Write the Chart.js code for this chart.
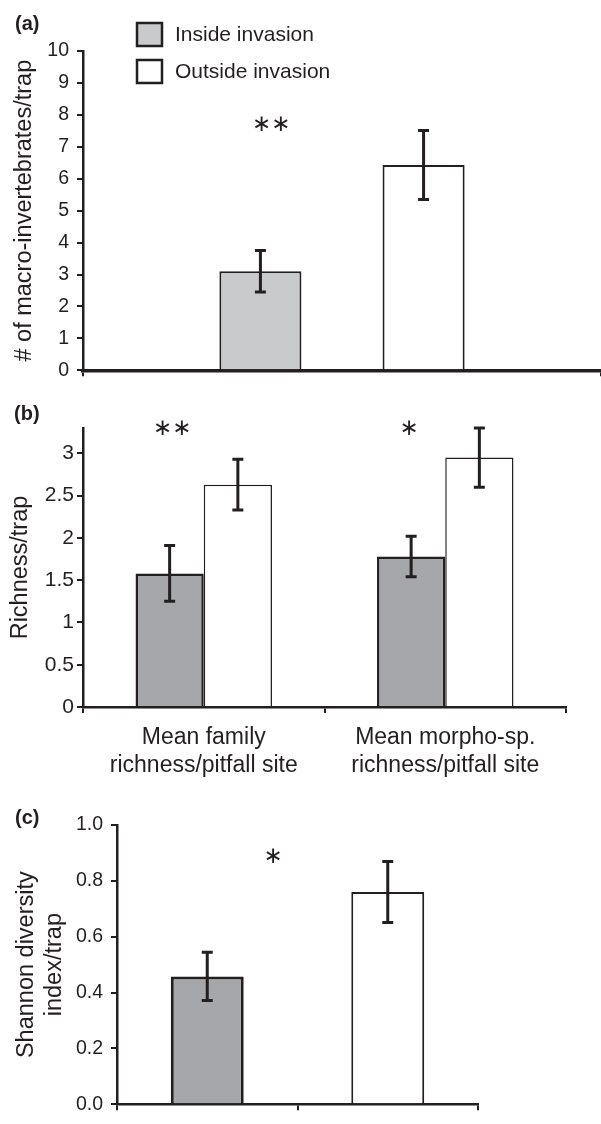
<!DOCTYPE html>
<html>
<head>
<meta charset="utf-8">
<script src="https://cdn.jsdelivr.net/npm/chart.js@4.4.1/dist/chart.umd.min.js"></script>
<style>
  body { margin: 0; background: #fff; }
  #wrap { position: relative; width: 601px; height: 1124px; overflow: hidden; font-family: "Liberation Sans", Arial, sans-serif; color: #231f20; }
  canvas { position: absolute; left: 0; }
  .tag { position: absolute; font-weight: bold; font-size: 20px; transform: translateY(-50%); }
  .star { position: absolute; font-size: 23px; font-family: "DejaVu Sans", sans-serif; transform: translate(-50%, -50%); }
</style>
</head>
<body>
<div id="wrap">
  <canvas id="chartA" width="601" height="390" style="top:0"></canvas>
  <canvas id="chartB" width="601" height="400" style="top:390px"></canvas>
  <canvas id="chartC" width="601" height="334" style="top:790px"></canvas>
  <div class="tag" style="left:15px;top:23px">(a)</div>
  <div class="tag" style="left:14px;top:413px">(b)</div>
  <div class="tag" style="left:15px;top:817px">(c)</div>
  <div class="star" style="left:271px;top:123px">&lowast;&lowast;</div>
  <div class="star" style="left:172px;top:427px">&lowast;&lowast;</div>
  <div class="star" style="left:409px;top:427px">&lowast;</div>
  <div class="star" style="left:273px;top:855px">&lowast;</div>
</div>
<script>
// (a) macro-invertebrates per trap
const aLabels = [""];
const aInside = [3.1];
const aInsideSE = [0.65];
const aOutside = [6.43];
const aOutsideSE = [1.08];

// (b) richness per trap
const bLabels = [["Mean family", "richness/pitfall site"], ["Mean morpho-sp.", "richness/pitfall site"]];
const bInside = [1.58, 1.78];
const bInsideSE = [0.33, 0.24];
const bOutside = [2.63, 2.95];
const bOutsideSE = [0.30, 0.35];

// (c) Shannon diversity per trap
const cLabels = ["", ""];
const cValues = [0.458, 0.76];
const cSE = [0.086, 0.109];

const INK = "#231f20";
const LIGHT = "#c9cacc";
const DARK = "#a6a7aa";
const FONT = "'Liberation Sans', Arial, sans-serif";

Chart.defaults.font.family = FONT;
Chart.defaults.color = INK;

const errorBars = {
  id: "errorBars",
  afterDatasetsDraw(chart) {
    const ctx = chart.ctx;
    const y = chart.scales.y;
    chart.data.datasets.forEach((ds, i) => {
      const meta = chart.getDatasetMeta(i);
      meta.data.forEach((bar, j) => {
        const v = ds.data[j];
        const e = ds.errors[j];
        const top = y.getPixelForValue(v + e);
        const bot = y.getPixelForValue(v - e);
        const cap = 5.5;
        ctx.save();
        ctx.strokeStyle = INK;
        ctx.lineWidth = 3;
        ctx.beginPath();
        ctx.moveTo(bar.x, top);
        ctx.lineTo(bar.x, bot);
        ctx.moveTo(bar.x - cap, top);
        ctx.lineTo(bar.x + cap, top);
        ctx.moveTo(bar.x - cap, bot);
        ctx.lineTo(bar.x + cap, bot);
        ctx.stroke();
        ctx.restore();
      });
    });
  }
};

const boxLegend = {
  id: "boxLegend",
  afterDraw(chart) {
    const ctx = chart.ctx;
    chart.data.datasets.forEach((ds, i) => {
      const top = 23 + i * 37;
      ctx.save();
      ctx.fillStyle = ds.backgroundColor;
      ctx.fillRect(137, top, 25, 23);
      ctx.strokeStyle = INK;
      ctx.lineWidth = 2.5;
      ctx.strokeRect(137, top, 25, 23);
      ctx.fillStyle = INK;
      ctx.font = "21px " + FONT;
      ctx.textBaseline = "middle";
      ctx.fillText(ds.label, 175, top + 12);
      ctx.restore();
    });
  }
};

function yAxis(opts) {
  return {
    min: 0,
    max: opts.max,
    afterFit: (s) => { s.width = opts.width; },
    afterBuildTicks: (s) => { s.ticks = s.ticks.filter(t => t.value <= opts.lastTick + 1e-9); },
    ticks: {
      stepSize: opts.step,
      padding: opts.pad,
      font: { size: opts.tickSize },
      color: INK,
      callback: opts.fmt
    },
    grid: { drawOnChartArea: false, tickLength: 6, color: INK, lineWidth: 2 },
    border: { color: INK, width: 2.5 },
    title: {
      display: true,
      text: opts.title,
      font: { size: 23.5 },
      color: INK,
      padding: { top: opts.titlePad, bottom: 0 }
    }
  };
}

function xAxis(opts) {
  return {
    afterFit: (s) => { s.height = opts.height; },
    ticks: {
      display: opts.showLabels,
      padding: 10,
      maxRotation: 0,
      autoSkip: false,
      font: { size: 23, lineHeight: 1.25 },
      color: INK
    },
    grid: { offset: true, drawOnChartArea: false, tickLength: 6, color: INK, lineWidth: 2 },
    border: { color: INK, width: opts.border }
  };
}

const common = {
  responsive: false,
  animation: false,
  plugins: { legend: { display: false }, tooltip: { enabled: false } }
};

new Chart(document.getElementById("chartA"), {
  type: "bar",
  data: {
    labels: aLabels,
    datasets: [
      { label: "Inside invasion", data: aInside, errors: aInsideSE, backgroundColor: LIGHT, borderColor: INK, borderWidth: 2, categoryPercentage: 0.63, barPercentage: 0.503 },
      { label: "Outside invasion", data: aOutside, errors: aOutsideSE, backgroundColor: "#ffffff", borderColor: INK, borderWidth: 2, categoryPercentage: 0.63, barPercentage: 0.503 }
    ]
  },
  options: {
    ...common,
    layout: { padding: { top: 51, right: 0, left: 0, bottom: 0 } },
    scales: {
      x: xAxis({ height: 19, showLabels: false, border: 3.5 }),
      y: yAxis({ max: 10, lastTick: 10, step: 1, width: 83, pad: 8, tickSize: 19.5, title: "# of macro-invertebrates/trap", titlePad: 10 })
    }
  },
  plugins: [errorBars, boxLegend]
});

new Chart(document.getElementById("chartB"), {
  type: "bar",
  data: {
    labels: bLabels,
    datasets: [
      { label: "Inside invasion", data: bInside, errors: bInsideSE, backgroundColor: DARK, borderColor: INK, borderWidth: 2.5, categoryPercentage: 0.565, barPercentage: 1 },
      { label: "Outside invasion", data: bOutside, errors: bOutsideSE, backgroundColor: "#ffffff", borderColor: INK, borderWidth: 1.5, categoryPercentage: 0.565, barPercentage: 1 }
    ]
  },
  options: {
    ...common,
    layout: { padding: { top: 38, right: 35, left: 0, bottom: 0 } },
    scales: {
      x: xAxis({ height: 83, showLabels: true, border: 2.5 }),
      y: yAxis({ max: 3.3, lastTick: 3, step: 0.5, width: 83, pad: 3, tickSize: 21, title: "Richness/trap", titlePad: 6 })
    }
  },
  plugins: [errorBars]
});

new Chart(document.getElementById("chartC"), {
  type: "bar",
  data: {
    labels: cLabels,
    datasets: [
      { label: "Shannon diversity", data: cValues, errors: cSE, backgroundColor: [DARK, "#ffffff"], borderColor: INK, borderWidth: [3, 2], categoryPercentage: 0.404, barPercentage: 1 }
    ]
  },
  options: {
    ...common,
    layout: { padding: { top: 35, right: 123, left: 0, bottom: 0 } },
    scales: {
      x: xAxis({ height: 8, showLabels: false, border: 2.5 }),
      y: yAxis({ max: 1, lastTick: 1, step: 0.2, width: 117, pad: 8, tickSize: 19.5, title: ["Shannon diversity", "index/trap"], titlePad: 12, fmt: (v) => Number(v).toFixed(1) })
    }
  },
  plugins: [errorBars]
});
</script>
</body>
</html>
